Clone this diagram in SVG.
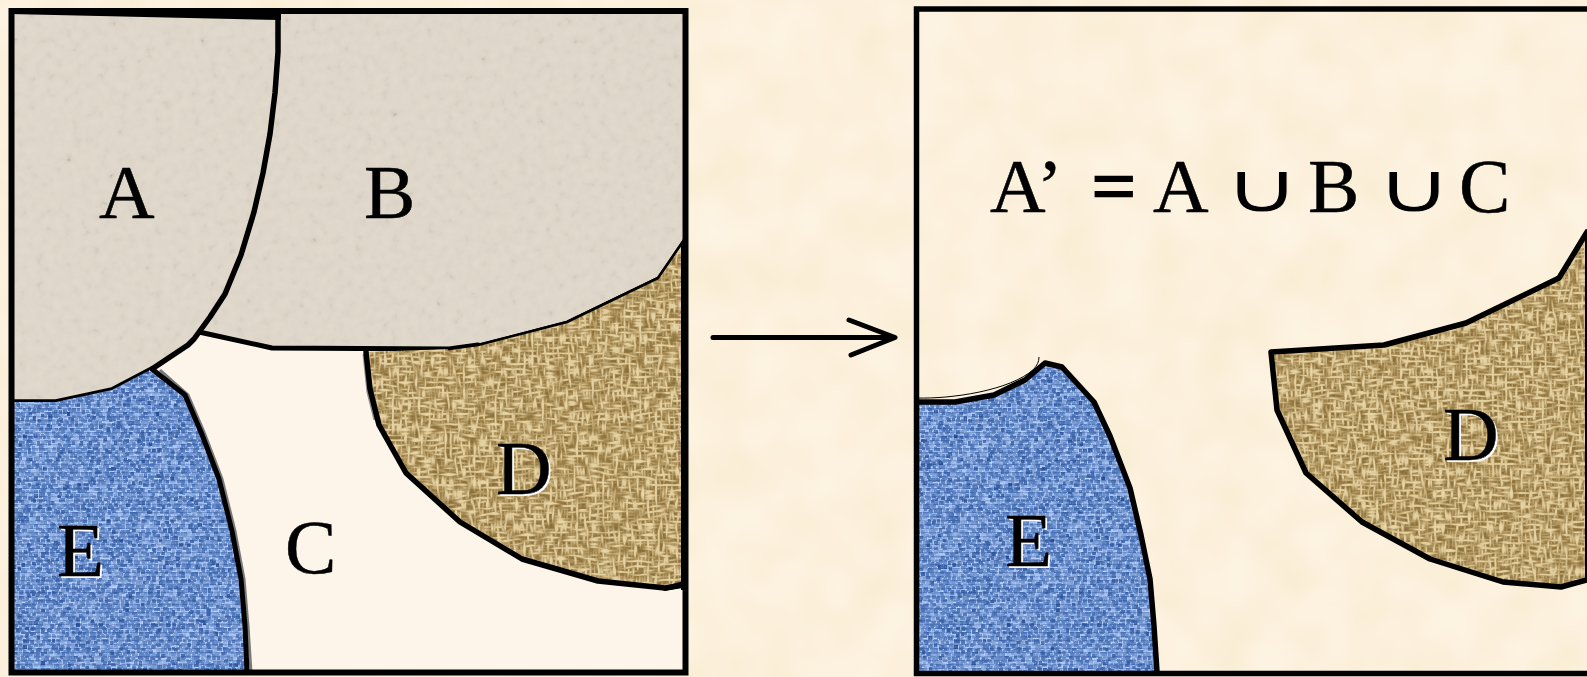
<svg xmlns="http://www.w3.org/2000/svg" width="1587" height="677" viewBox="0 0 1587 677">
<style>
.ln{fill:none;stroke:#000;stroke-linejoin:round;stroke-linecap:round}
.t{font-family:"Liberation Serif","Times New Roman",serif;font-size:77px;fill:#000;stroke:#000;stroke-width:.5}
.s{font-family:"Liberation Serif","Times New Roman",serif;font-size:77px;fill:#fff}
.u{font-family:"DejaVu Sans",sans-serif;font-weight:200;font-size:76px;fill:#000;stroke:#fdf3df;stroke-width:.9}
</style>
<defs>
<filter id="paper" x="0" y="0" width="1" height="1" color-interpolation-filters="sRGB">
<feTurbulence type="fractalNoise" baseFrequency="0.02" numOctaves="2" seed="4"/>
<feColorMatrix values="1 0 0 0 0 1 0 0 0 0 1 0 0 0 0 0 0 0 0 1"/>
<feComponentTransfer>
<feFuncR type="table" tableValues="0.975 0.98 0.99 0.995 1"/>
<feFuncG type="table" tableValues="0.93 0.935 0.945 0.955 0.96"/>
<feFuncB type="table" tableValues="0.83 0.84 0.865 0.885 0.90"/>
</feComponentTransfer>
</filter>
<filter id="stone" x="0" y="0" width="1" height="1" color-interpolation-filters="sRGB">
<feTurbulence type="fractalNoise" baseFrequency="0.11" numOctaves="3" seed="9"/>
<feColorMatrix values="1 0 0 0 0 1 0 0 0 0 1 0 0 0 0 0 0 0 0 1"/>
<feComponentTransfer>
<feFuncR type="table" tableValues="0.68 0.83 0.86 0.87 0.875 0.88 0.885 0.89"/>
<feFuncG type="table" tableValues="0.65 0.80 0.83 0.84 0.845 0.85 0.855 0.86"/>
<feFuncB type="table" tableValues="0.60 0.75 0.78 0.79 0.795 0.80 0.805 0.81"/>
</feComponentTransfer>
</filter>
<filter id="blue" x="0" y="0" width="1" height="1" color-interpolation-filters="sRGB">
<feTurbulence type="fractalNoise" baseFrequency="0.55" numOctaves="1" seed="3"/>
<feColorMatrix values="1 0 0 0 0 1 0 0 0 0 1 0 0 0 0 0 0 0 0 1"/>
<feMorphology operator="dilate" radius="1"/>
<feMorphology operator="erode" radius="1"/>
<feComponentTransfer>
<feFuncR type="table" tableValues="0.08 0.08 0.08 0.08 0.12 0.36 0.66 0.78 0.78 0.78"/>
<feFuncG type="table" tableValues="0.20 0.20 0.20 0.22 0.28 0.52 0.77 0.88 0.88 0.88"/>
<feFuncB type="table" tableValues="0.48 0.48 0.48 0.50 0.56 0.78 0.95 1 1 1"/>
</feComponentTransfer>
<feGaussianBlur stdDeviation="0.3"/>
</filter>
<filter id="burlap" x="0" y="0" width="1" height="1" color-interpolation-filters="sRGB">
<feTurbulence type="fractalNoise" baseFrequency="0.09 0.38" numOctaves="1" seed="11"/>
<feColorMatrix values="1 0 0 0 0 1 0 0 0 0 1 0 0 0 0 0 0 0 0 1" result="h"/>
<feTurbulence type="fractalNoise" baseFrequency="0.38 0.09" numOctaves="1" seed="23"/>
<feColorMatrix values="1 0 0 0 0 1 0 0 0 0 1 0 0 0 0 0 0 0 0 1" result="v"/>
<feBlend in="h" in2="v" mode="lighten"/>
<feComponentTransfer>
<feFuncR type="table" tableValues="0.53 0.53 0.53 0.54 0.61 0.73 0.87 0.91 0.91 0.91"/>
<feFuncG type="table" tableValues="0.43 0.43 0.43 0.44 0.50 0.63 0.79 0.84 0.84 0.84"/>
<feFuncB type="table" tableValues="0.22 0.22 0.22 0.23 0.29 0.42 0.60 0.66 0.66 0.66"/>
</feComponentTransfer>
<feGaussianBlur stdDeviation="0.7"/>
</filter>
<pattern id="weave" width="5" height="4" patternUnits="userSpaceOnUse">
<rect width="5" height="1.3" fill="#0f2a68" opacity=".2"/>
<rect x="0" y="2" width="1.2" height="2" fill="#b9d2ff" opacity=".2"/>
</pattern>
<clipPath id="cA"><path d="M12 13L278 18V52L275 93L270 134L263 173L254 212L241 255L225 294L210 317L194 339L188 345L152 369L112 390L56 402H12Z"/></clipPath>
<clipPath id="cB"><path d="M278 12H686V242L658 278L567 322L478 345L449 349L272 350L199 332L225 294L241 255L254 212L263 173L270 134L275 93L278 52Z"/></clipPath>
<clipPath id="cD"><path d="M366 352L449 349L478 345L567 322L658 278L684 240V586L665 588L598 581L522 559L460 522L406 473L379 425L370 389Z"/></clipPath>
<clipPath id="cE"><path d="M12 402H56L112 390L152 369L185 395L201 432L219 479L232 531L241 579L245 626L248 672H12Z"/></clipPath>
<clipPath id="cE2"><path d="M917 402H955L994 395L1025 380L1045 363L1062 367L1094 402L1110 436L1130 488L1141 535L1150 579L1154 626L1157 672H917Z"/></clipPath>
<clipPath id="cD2"><path d="M1271 352L1384 345L1466 323L1559 278L1587 232V580L1561 587L1503 582L1430 559L1362 522L1306 473L1277 410Z"/></clipPath>
</defs>
<rect id="paper-bg" width="1587" height="677" filter="url(#paper)"/>

<g id="node-C">
<rect x="12" y="12" width="672" height="660" fill="#fdf5e9"/>
<text class="t" x="285" y="573">C</text>
</g>
<g id="node-B">
<rect x="180" y="0" width="520" height="370" filter="url(#stone)" clip-path="url(#cB)"/>
<path class="ln" stroke-width="5" d="M199 332L272 348L449 349L478 345"/>
<path class="ln" stroke-width="2.500" d="M478 345L567 322L658 278L684 240"/>
<text class="t" x="364" y="218">B</text>
</g>
<g id="node-A">
<rect x="0" y="0" width="300" height="420" filter="url(#stone)" clip-path="url(#cA)"/>
<path class="ln" stroke-width="5.500" d="M278 18V52L275 93L270 134L263 173L254 212L241 255L225 294L210 317L194 339L188 345L152 369L112 390L56 402H12"/>
<path d="M10 9H281V20L10 14Z"/>
<text class="t" x="99" y="218">A</text>
</g>
<g id="node-D">
<rect x="345" y="225" width="350" height="380" filter="url(#burlap)" clip-path="url(#cD)"/>
<path fill="none" stroke="#8d8d8d" stroke-width="3" d="M364 354L368 392L375 420"/>
<path class="ln" stroke-width="5.500" d="M366 352L370 389L379 425L406 473L460 522L522 559L598 581L665 588L684 585"/>
<path class="ln" stroke-width="2.500" d="M449 349L478 345L567 322L658 278L684 240"/>
<path d="M650 584L665 586L684 581V587L665 591Z"/>
<path d="M681 242H684V590H681Z"/>
<text class="s" x="498" y="496">D</text>
<text class="t" x="496" y="494">D</text>
</g>
<g id="node-E">
<rect x="0" y="360" width="260" height="320" filter="url(#blue)" clip-path="url(#cE)"/>
<rect x="0" y="360" width="260" height="320" fill="url(#weave)" clip-path="url(#cE)"/>
<path fill="none" stroke="#7a7a7a" stroke-width="3" d="M160 370L188 395L204 432L222 479L235 531L244 579L248 626L251 672"/>
<path class="ln" stroke-width="5" d="M152 369L185 395L201 432L219 479L232 531L241 579L245 626L247 672"/>
<text class="s" x="59" y="578">E</text>
<text class="t" x="57" y="576">E</text>
</g>
<rect id="frame-left" x="11.500" y="11" width="674" height="661.500" fill="none" stroke="#000" stroke-width="6"/>

<g id="connectors">
<path class="ln" stroke-width="5" d="M713 337.500H893M849 320L895 337.500L851 355"/>
</g>

<g id="node-E2">
<rect x="900" y="350" width="270" height="330" filter="url(#blue)" clip-path="url(#cE2)"/>
<rect x="900" y="350" width="270" height="330" fill="url(#weave)" clip-path="url(#cE2)"/>
<path class="ln" stroke-width="5.500" d="M917 402H955L994 395L1025 380L1045 363L1062 367L1094 402L1110 436L1130 488L1141 535L1150 579L1154 626L1157 672"/>
<path fill="none" stroke="#000" stroke-width="1" d="M917 398C950 399 1010 391 1034 369 1037 365 1039 362 1039 357"/>
<text class="s" x="1007" y="568">E</text>
<text class="t" x="1005" y="566">E</text>
</g>
<g id="node-D2">
<rect x="1255" y="215" width="340" height="390" filter="url(#burlap)" clip-path="url(#cD2)"/>
<path class="ln" stroke-width="5.500" d="M1587 232L1559 278L1466 323L1384 345L1271 352L1277 410L1306 473L1362 522L1430 559L1503 582L1561 587L1587 580"/>
<path d="M1585 232H1587V582H1585Z"/>
<text class="s" x="1445" y="462">D</text>
<text class="t" x="1443" y="460">D</text>
</g>
<path id="frame-right" d="M1587 9H916.500V673.500H1587" fill="none" stroke="#000" stroke-width="5.500"/>
<g id="label-formula">
<text class="t" y="212"><tspan x="990">A’</tspan><tspan x="1153">A</tspan><tspan x="1308">B</tspan><tspan x="1459">C</tspan></text>
<text class="t" y="212" style="stroke-width:2.500"><tspan x="1092">=</tspan></text>
<text class="u" transform="translate(1223 212) scale(1.4 .92)" x="0" y="0">∪</text>
<text class="u" transform="translate(1375 212) scale(1.4 .92)" x="0" y="0">∪</text>
</g>
</svg>
